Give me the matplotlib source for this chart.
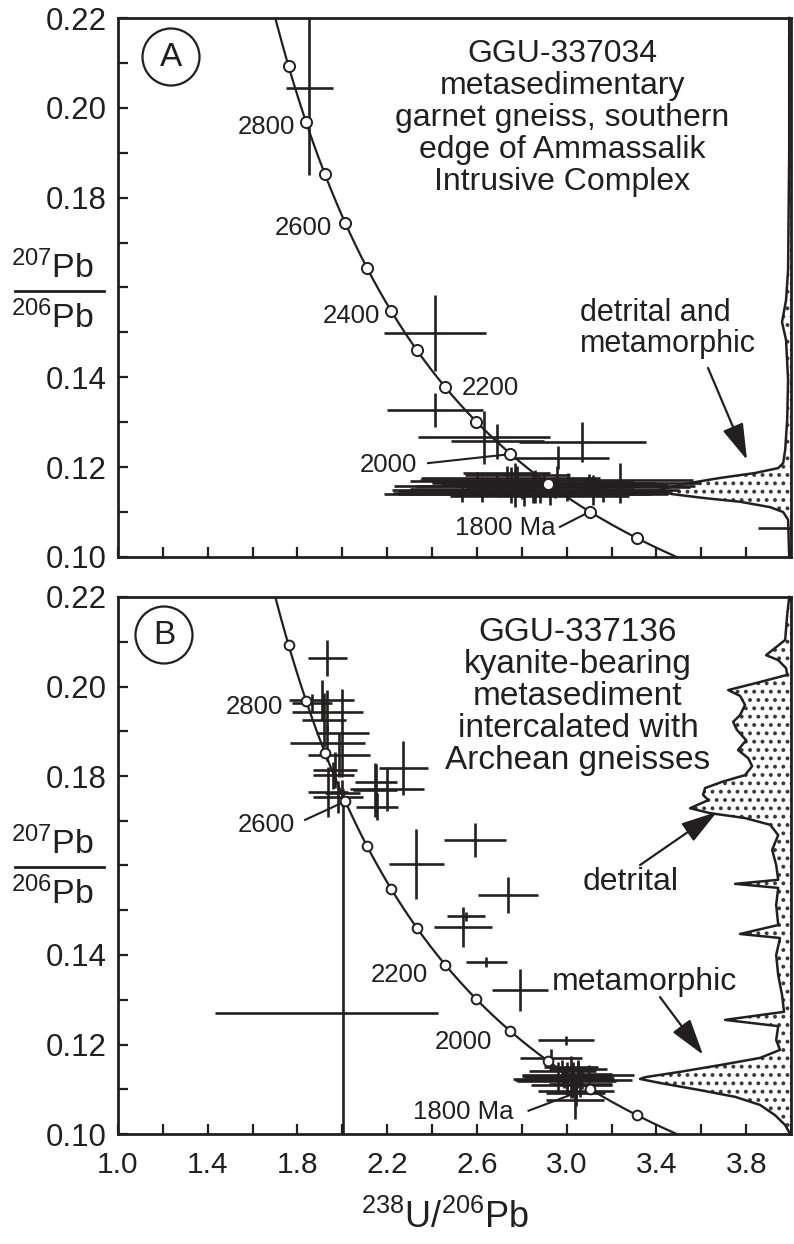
import numpy as np
import matplotlib
matplotlib.use('Agg')
import matplotlib.pyplot as plt
from matplotlib.patches import Ellipse
from matplotlib.lines import Line2D
from matplotlib.ticker import MultipleLocator, FuncFormatter

plt.rcParams['font.family'] = ['Liberation Sans', 'DejaVu Sans']
plt.rcParams['mathtext.fontset'] = 'custom'
plt.rcParams['mathtext.rm'] = 'Liberation Sans'
plt.rcParams['mathtext.default'] = 'regular'
plt.rcParams['hatch.linewidth'] = 1.6

INK = '#231f20'

# ---------------- data ----------------
# decay constants for the Tera-Wasserburg concordia
LAMBDA_238 = 1.55125e-10
LAMBDA_235 = 9.8485e-10
U_RATIO = 137.88
marker_ages = [1700, 1800, 1900, 2000, 2100, 2200, 2300, 2400, 2500, 2600, 2700, 2800, 2900]

# Panel A : GGU-337034 spot analyses (238U/206Pb, 207Pb/206Pb, errors)
A_x = [1.852, 2.413, 2.413, 2.632, 2.690, 3.069, 2.962, 2.955, 2.810, 2.732,
       2.780, 2.534, 2.623, 2.770, 2.859, 2.926, 3.006, 3.118, 3.162, 3.238,
       2.690, 2.850, 3.050, 2.950, 2.880, 2.700, 4.000, 2.600, 2.750, 2.900,
       3.000, 2.800, 2.650, 3.100, 2.850, 2.950, 2.750]
A_y = [0.2044, 0.1499, 0.1327, 0.1267, 0.1258, 0.1256, 0.1221, 0.1172, 0.1143, 0.1187,
       0.1183, 0.1140, 0.1150, 0.1160, 0.1157, 0.1140, 0.1163, 0.1149, 0.1142, 0.1165,
       0.1163, 0.1168, 0.1155, 0.1150, 0.1135, 0.1148, 0.1065, 0.1170, 0.1175, 0.1165,
       0.1145, 0.1152, 0.1158, 0.1160, 0.1140, 0.1158, 0.1145]
A_xerr = [0.105, 0.227, 0.214, 0.294, 0.207, 0.283, 0.225, 0.610, 0.584, 0.194,
          0.234, 0.350, 0.400, 0.300, 0.350, 0.450, 0.400, 0.300, 0.250, 0.350,
          0.250, 0.450, 0.500, 0.550, 0.400, 0.450, 0.145, 0.300, 0.400, 0.500,
          0.450, 0.500, 0.420, 0.350, 0.600, 0.620, 0.380]
A_yerr = [0.0194, 0.0085, 0.0038, 0.0059, 0.0039, 0.0045, 0.0026, 0.0030, 0.0030, 0.0015,
          0.0020, 0.0017, 0.0028, 0.0049, 0.0037, 0.0024, 0.0024, 0.0033, 0.0020, 0.0045,
          0.0022, 0.0020, 0.0015, 0.0018, 0.0015, 0.0015, 0.0020, 0.0020, 0.0025, 0.0020,
          0.0020, 0.0022, 0.0018, 0.0025, 0.0020, 0.0020, 0.0025]

# Panel B : GGU-337136 spot analyses
B_x = [1.932, 1.909, 1.865, 1.932, 1.918, 2.000, 1.932, 1.985, 1.967, 1.960,
       2.150, 2.199, 2.000, 1.980, 2.155, 2.271, 2.146, 1.936, 1.930, 2.003,
       2.329, 2.592, 2.739, 2.538, 2.550, 2.641, 2.792, 2.997, 2.930, 3.037,
       3.000, 3.030, 2.980, 3.050, 3.020, 3.070, 2.960, 3.100, 3.040, 2.982,
       3.040, 3.000, 3.050, 2.990, 3.020, 3.060]
B_y = [0.2064, 0.1970, 0.1963, 0.1943, 0.1925, 0.1896, 0.1874, 0.1847, 0.1813, 0.1802,
       0.1787, 0.1771, 0.1762, 0.1753, 0.1731, 0.1818, 0.1769, 0.1764, 0.1270, 0.1270,
       0.1603, 0.1657, 0.1534, 0.1463, 0.1487, 0.1384, 0.1322, 0.1210, 0.1170, 0.1076,
       0.1130, 0.1120, 0.1140, 0.1145, 0.1110, 0.1125, 0.1125, 0.1135, 0.1095, 0.1123,
       0.1092, 0.1118, 0.1132, 0.1128, 0.1150, 0.1112]
B_xerr = [0.087, 0.145, 0.091, 0.158, 0.100, 0.118, 0.167, 0.138, 0.098, 0.090,
          0.094, 0.167, 0.078, 0.110, 0.092, 0.109, 0.098, 0.090, 0.497, 0.000,
          0.123, 0.138, 0.134, 0.129, 0.085, 0.091, 0.125, 0.127, 0.140, 0.129,
          0.200, 0.260, 0.150, 0.130, 0.180, 0.140, 0.120, 0.100, 0.170, 0.220,
          0.130, 0.220, 0.250, 0.180, 0.120, 0.140]
B_yerr = [0.0040, 0.0045, 0.0020, 0.0050, 0.0060, 0.0098, 0.0040, 0.0050, 0.0040, 0.0030,
          0.0040, 0.0050, 0.0030, 0.0035, 0.0030, 0.0061, 0.0060, 0.0056, 0.0000, 0.0500,
          0.0078, 0.0038, 0.0040, 0.0045, 0.0010, 0.0011, 0.0047, 0.0010, 0.0020, 0.0042,
          0.0030, 0.0040, 0.0025, 0.0020, 0.0030, 0.0025, 0.0035, 0.0020, 0.0020, 0.0015,
          0.0030, 0.0030, 0.0030, 0.0025, 0.0025, 0.0030]

# probability-density profiles drawn along the right edge (207Pb/206Pb, 238U/206Pb position)
A_pdf_y = [0.2200, 0.1906, 0.1639, 0.1572, 0.1523, 0.1483, 0.1394, 0.1305, 0.1238, 0.1209,
           0.1198, 0.1187, 0.1176, 0.1163, 0.1152, 0.1147, 0.1140, 0.1131, 0.1123, 0.1111,
           0.1100, 0.1083, 0.1000]
A_pdf_x = [3.992, 3.992, 3.987, 3.978, 3.960, 3.978, 3.987, 3.983, 3.974, 3.965,
           3.943, 3.840, 3.684, 3.528, 3.430, 3.403, 3.470, 3.617, 3.773, 3.907,
           3.965, 3.987, 3.992]
B_pdf_y = [0.2200, 0.2160, 0.2104, 0.2086, 0.2070, 0.2059, 0.2041, 0.2026, 0.2010, 0.1992,
           0.1979, 0.1959, 0.1936, 0.1921, 0.1903, 0.1880, 0.1858, 0.1840, 0.1822, 0.1802,
           0.1787, 0.1773, 0.1758, 0.1746, 0.1728, 0.1717, 0.1706, 0.1691, 0.1668, 0.1635,
           0.1601, 0.1568, 0.1559, 0.1550, 0.1512, 0.1467, 0.1447, 0.1438, 0.1400, 0.1355,
           0.1311, 0.1273, 0.1255, 0.1241, 0.1210, 0.1188, 0.1170, 0.1154, 0.1139, 0.1127,
           0.1123, 0.1114, 0.1098, 0.1083, 0.1065, 0.1042, 0.1020, 0.1000]
B_pdf_x = [3.992, 3.983, 3.974, 3.929, 3.889, 3.943, 3.978, 3.983, 3.862, 3.720,
           3.773, 3.795, 3.773, 3.742, 3.759, 3.800, 3.764, 3.809, 3.827, 3.795,
           3.693, 3.617, 3.608, 3.631, 3.550, 3.639, 3.795, 3.907, 3.943, 3.916,
           3.934, 3.943, 3.751, 3.943, 3.934, 3.943, 3.773, 3.951, 3.934, 3.943,
           3.960, 3.969, 3.706, 3.943, 3.934, 3.951, 3.862, 3.684, 3.506, 3.350,
           3.327, 3.416, 3.595, 3.751, 3.862, 3.929, 3.974, 3.996]

x_tick_labels = ['1.0', '1.4', '1.8', '2.2', '2.6', '3.0', '3.4', '3.8']
y_tick_labels = ['0.10', '0.12', '0.14', '0.18', '0.20', '0.22']

A_title = ['GGU-337034', 'metasedimentary', 'garnet gneiss, southern',
           'edge of Ammassalik', 'Intrusive Complex']
B_title = ['GGU-337136', 'kyanite-bearing', 'metasediment',
           'intercalated with', 'Archean gneisses']


def concordia(t_ma):
    t = np.asarray(t_ma, dtype=float) * 1e6
    e8 = np.exp(LAMBDA_238 * t) - 1.0
    e5 = np.exp(LAMBDA_235 * t) - 1.0
    return 1.0 / e8, e5 / e8 / U_RATIO


# ---------------- figure ----------------
fig = plt.figure(figsize=(7.94, 12.44), dpi=100)
axA = fig.add_axes([118 / 794, 1 - 557 / 1244, 673 / 794, 539 / 1244])
axB = fig.add_axes([118 / 794, 1 - 1134 / 1244, 673 / 794, 537 / 1244])


def style_axes(ax, show_x):
    ax.set_xlim(1.0, 4.0)
    ax.set_ylim(0.10, 0.22)
    ax.xaxis.set_major_locator(MultipleLocator(0.2))
    ax.yaxis.set_major_locator(MultipleLocator(0.01))

    def xf(v, pos):
        s = f'{v:.1f}'
        return s if (s in x_tick_labels and show_x) else ''

    def yf(v, pos):
        s = f'{v:.2f}'
        return s if s in y_tick_labels else ''
    ax.xaxis.set_major_formatter(FuncFormatter(xf))
    ax.yaxis.set_major_formatter(FuncFormatter(yf))
    ax.tick_params(axis='both', direction='in', length=7, width=1.6, color=INK,
                   labelcolor=INK)
    ax.tick_params(axis='y', labelsize=22.5, pad=8)
    ax.tick_params(axis='x', labelsize=21.5, pad=12)
    for s in ax.spines.values():
        s.set_linewidth(2.0)
        s.set_color(INK)


def draw_panel(ax, xs, ys, xe, ye, pdf_y, pdf_x, msize):
    # stippled density profile
    ax.fill_betweenx(pdf_y, pdf_x, 4.0, facecolor='white', edgecolor='#3a3a3a',
                     hatch='..', linewidth=0, zorder=1)
    ax.plot(pdf_x, pdf_y, color=INK, lw=1.8, zorder=2, clip_on=False)
    # analyses
    ax.errorbar(xs, ys, xerr=xe, yerr=ye, fmt='none', ecolor=INK,
                elinewidth=1.9, capsize=0, zorder=3)
    # concordia
    ages = np.arange(1500, 3201, 5)
    cx, cy = concordia(ages)
    ax.plot(cx, cy, color=INK, lw=1.6, zorder=4)
    mx, my = concordia(marker_ages)
    ax.plot(mx, my, 'o', ms=msize, mfc='white', mec=INK, mew=1.4, zorder=5)


style_axes(axA, False)
style_axes(axB, True)
draw_panel(axA, A_x, A_y, A_xerr, A_yerr, A_pdf_y, A_pdf_x, 8)
draw_panel(axB, B_x, B_y, B_xerr, B_yerr, B_pdf_y, B_pdf_x, 7)

LBL = 18.5
TXT = 23

# --- Panel A annotations ---
axA.text(1.789, 0.1957, '2800', ha='right', va='center', fontsize=LBL, color=INK)
axA.text(1.954, 0.1733, '2600', ha='right', va='center', fontsize=LBL, color=INK)
axA.text(2.168, 0.1537, '2400', ha='right', va='center', fontsize=LBL, color=INK)
axA.text(2.534, 0.1376, '2200', ha='left', va='center', fontsize=LBL, color=INK)
axA.text(2.333, 0.1205, '2000', ha='right', va='center', fontsize=LBL, color=INK)
axA.text(2.948, 0.1065, '1800 Ma', ha='right', va='center', fontsize=LBL, color=INK)
axA.plot([2.382, 2.73], [0.1209, 0.1228], color=INK, lw=1.5, zorder=4)
axA.plot([2.97, 3.08], [0.1067, 0.1095], color=INK, lw=1.5, zorder=4)

for line, base in zip(A_title, [62, 94, 126, 158, 190]):
    axA.text(2.98, 0.22 - (base - 18) * 0.12 / 539, line, ha='center',
             va='baseline', fontsize=TXT, color=INK)
axA.text(3.06, 0.22 - (321 - 18) * 0.12 / 539, 'detrital and', ha='left',
         va='baseline', fontsize=22, color=INK)
axA.text(3.06, 0.22 - (352 - 18) * 0.12 / 539, 'metamorphic', ha='left',
         va='baseline', fontsize=22, color=INK)
axA.annotate('', xy=(3.804, 0.1216), xytext=(3.630, 0.1421),
             arrowprops=dict(arrowstyle='-|>,head_length=1.5,head_width=0.45',
                             mutation_scale=15, lw=1.6, color=INK,
                             shrinkA=0, shrinkB=0), zorder=6)

# --- Panel B annotations ---
axB.text(1.736, 0.1954, '2800', ha='right', va='center', fontsize=LBL, color=INK)
axB.text(1.789, 0.1690, '2600', ha='right', va='center', fontsize=LBL, color=INK)
axB.text(2.382, 0.1355, '2200', ha='right', va='center', fontsize=LBL, color=INK)
axB.text(2.667, 0.1206, '2000', ha='right', va='center', fontsize=LBL, color=INK)
axB.text(2.761, 0.1049, '1800 Ma', ha='right', va='center', fontsize=LBL, color=INK)
axB.plot([1.834, 1.99], [0.1702, 0.1738], color=INK, lw=1.5, zorder=4)
axB.plot([2.83, 3.015], [0.1052, 0.1087], color=INK, lw=1.5, zorder=4)

for line, base in zip(B_title, [641, 673, 705, 737, 769]):
    axB.text(3.05, 0.22 - (base - 597) * 0.12 / 537, line, ha='center',
             va='baseline', fontsize=24, color=INK)
axB.text(3.073, 0.22 - (890 - 597) * 0.12 / 537, 'detrital', ha='left',
         va='baseline', fontsize=TXT, color=INK)
axB.text(2.935, 0.22 - (990 - 597) * 0.12 / 537, 'metamorphic', ha='left',
         va='baseline', fontsize=TXT, color=INK)
axB.annotate('', xy=(3.671, 0.1720), xytext=(3.327, 0.1601),
             arrowprops=dict(arrowstyle='-|>,head_length=1.5,head_width=0.45',
                             mutation_scale=15, lw=1.6, color=INK,
                             shrinkA=0, shrinkB=0), zorder=6)
axB.annotate('', xy=(3.608, 0.1177), xytext=(3.416, 0.1306),
             arrowprops=dict(arrowstyle='-|>,head_length=1.5,head_width=0.45',
                             mutation_scale=15, lw=1.6, color=INK,
                             shrinkA=0, shrinkB=0), zorder=6)

# --- panel letters in circles ---
for ax, cx, cy, letter in [(axA, 171, 57, 'A'), (axB, 164, 635, 'B')]:
    top = 18 if letter == 'A' else 597
    h = 539 if letter == 'A' else 537
    fx = (cx - 118) / 673
    fy = 1 - (cy - top) / h
    ax.add_patch(Ellipse((fx, fy), 57 / 673, 57 / h, transform=ax.transAxes,
                         facecolor='white', edgecolor=INK, lw=1.6, zorder=7))
    ax.text(fx, fy, letter, transform=ax.transAxes, ha='center', va='center',
            fontsize=24, color=INK, zorder=8)

# --- y-axis fraction labels ---
for line_py in [291, 867]:
    yl = 1 - line_py / 1244
    fig.text(52 / 794, 1 - (line_py - 13) / 1244, r'$^{207}$Pb', ha='center',
             va='baseline', fontsize=24.5, color=INK)
    fig.text(52 / 794, 1 - (line_py + 37) / 1244, r'$^{206}$Pb', ha='center',
             va='baseline', fontsize=24.5, color=INK)
    fig.add_artist(Line2D([15 / 794, 104 / 794], [yl, yl], transform=fig.transFigure,
                          lw=2.0, color=INK))

# --- x-axis label ---
fig.text(445 / 794, 1 - 1228 / 1244, r'$^{238}$U/$^{206}$Pb', ha='center',
         va='baseline', fontsize=26, color=INK)

fig.savefig('out.png', dpi=100, facecolor='white')
